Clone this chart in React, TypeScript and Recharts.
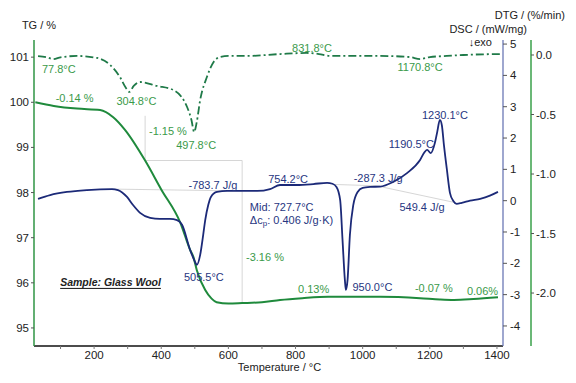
import React from "react";
import { ComposedChart, Line, XAxis, YAxis, ReferenceDot, ReferenceLine } from "recharts";

// TG (mass, %)
const TG_T = [25, 80, 149, 218, 257, 292, 352, 400, 457, 486, 496, 506, 531, 550, 565, 600, 641, 700, 754, 820, 897, 1052, 1171, 1230, 1272, 1330, 1403];
const TG = [100.0, 99.92, 99.86, 99.83, 99.67, 99.39, 98.71, 98.07, 97.33, 96.73, 96.57, 96.28, 95.84, 95.65, 95.57, 95.54, 95.55, 95.57, 95.62, 95.66, 95.69, 95.69, 95.66, 95.63, 95.62, 95.64, 95.68];

// DSC (mW/mg)
const DSC_T = [33, 69, 119, 179, 253, 271, 298, 316, 337, 367, 396, 426, 447, 462, 486, 501, 506, 516, 525, 531, 540, 548, 566, 596, 640, 686, 724, 754, 804, 853, 894, 910, 922, 933, 940, 947, 950, 955, 962, 972, 985, 1000, 1022, 1052, 1091, 1132, 1171, 1185, 1192, 1203, 1215, 1222, 1230, 1236, 1242, 1251, 1260, 1270, 1280, 1295, 1320, 1350, 1379, 1403];
const DSC = [0.06, 0.18, 0.28, 0.34, 0.37, 0.34, 0.12, -0.14, -0.39, -0.55, -0.58, -0.58, -0.62, -0.77, -1.57, -1.96, -2.05, -1.73, -1.09, -0.62, -0.14, 0.12, 0.28, 0.31, 0.31, 0.31, 0.37, 0.5, 0.5, 0.53, 0.57, 0.54, 0.44, 0.02, -1.25, -2.53, -2.85, -2.53, -1.09, -0.14, 0.28, 0.41, 0.44, 0.45, 0.6, 0.88, 1.3, 1.56, 1.62, 1.52, 1.84, 2.19, 2.58, 2.4, 1.78, 0.98, 0.25, -0.01, -0.1, -0.07, 0.0, 0.06, 0.16, 0.28];

// DTG (%/min)
const DTG_T = [33, 60, 78, 100, 149, 209, 248, 277, 295, 305, 318, 337, 387, 436, 460, 477, 490, 498, 506, 516, 536, 556, 575, 600, 655, 754, 832, 870, 903, 1000, 1052, 1140, 1171, 1200, 1251, 1300, 1409];
const DTG = [-0.01, -0.02, -0.035, -0.02, -0.008, -0.025, -0.084, -0.185, -0.277, -0.31, -0.26, -0.227, -0.26, -0.294, -0.35, -0.437, -0.546, -0.647, -0.56, -0.378, -0.185, -0.059, -0.017, -0.008, -0.008, 0.008, 0.017, 0.008, -0.008, -0.008, -0.008, -0.017, -0.034, -0.017, -0.008, 0.0, 0.008];

const X_TICKS = [100, 200, 300, 400, 500, 600, 700, 800, 900, 1000, 1100, 1200, 1300, 1400];
const TG_TICKS = [95, 96, 97, 98, 99, 100, 101];
const DSC_TICKS = [-4, -3, -2, -1, 0, 1, 2, 3, 4, 5];
const DTG_TICKS = [0, -0.5, -1, -1.5, -2];

const tgData = TG_T.map((t, i) => ({ t, v: TG[i] }));
const dscData = DSC_T.map((t, i) => ({ t, v: DSC[i] }));
const dtgData = DTG_T.map((t, i) => ({ t, v: DTG[i] }));

const FONT = "'Liberation Sans', Arial, sans-serif";
const GREEN = "#1f8a3c";
const GREEN_TXT = "#3a9a4a";
const DARK_GREEN = "#1f7a48";
const BLUE = "#1c2a78";
const BLUE_TXT = "#27367f";
const GUIDE = "#cccccc";

type Note = { text: string; t: number; v: number; axis: string; color: string; anchor?: "start" | "middle" | "end" };

const NOTES: Note[] = [
  { text: "77.8°C", t: 95, v: -0.118, axis: "dtg", color: GREEN_TXT },
  { text: "304.8°C", t: 326, v: -0.387, axis: "dtg", color: GREEN_TXT },
  { text: "497.8°C", t: 504, v: -0.756, axis: "dtg", color: GREEN_TXT },
  { text: "831.8°C", t: 849, v: 0.059, axis: "dtg", color: GREEN_TXT },
  { text: "1170.8°C", t: 1171, v: -0.101, axis: "dtg", color: GREEN_TXT },
  { text: "-0.14 %", t: 142, v: 100.09, axis: "tg", color: GREEN_TXT },
  { text: "-1.15 %", t: 420, v: 99.36, axis: "tg", color: GREEN_TXT },
  { text: "-3.16 %", t: 709, v: 96.57, axis: "tg", color: GREEN_TXT },
  { text: "0.13%", t: 854, v: 95.86, axis: "tg", color: GREEN_TXT },
  { text: "-0.07 %", t: 1212, v: 95.88, axis: "tg", color: GREEN_TXT },
  { text: "0.06%", t: 1357, v: 95.82, axis: "tg", color: GREEN_TXT },
  { text: "1230.1°C", t: 1245, v: 2.736, axis: "dsc", color: BLUE_TXT },
  { text: "1190.5°C", t: 1145, v: 1.81, axis: "dsc", color: BLUE_TXT },
  { text: "-287.3 J/g", t: 1046, v: 0.725, axis: "dsc", color: BLUE_TXT },
  { text: "549.4 J/g", t: 1177, v: -0.2, axis: "dsc", color: BLUE_TXT },
  { text: "-783.7 J/g", t: 554, v: 0.502, axis: "dsc", color: BLUE_TXT },
  { text: "754.2°C", t: 778, v: 0.693, axis: "dsc", color: BLUE_TXT },
  { text: "Mid: 727.7°C", t: 664, v: -0.2, axis: "dsc", color: BLUE_TXT, anchor: "start" },
  { text: "DCP", t: 664, v: -0.615, axis: "dsc", color: BLUE_TXT, anchor: "start" },
  { text: "505.5°C", t: 527, v: -2.435, axis: "dsc", color: BLUE_TXT },
  { text: "950.0°C", t: 1029, v: -2.754, axis: "dsc", color: BLUE_TXT },
];

// light guide lines of the step / peak evaluation
const GUIDES = [
  { axis: "tg", a: [352, 99.7], b: [352, 98.71] },
  { axis: "tg", a: [352, 98.71], b: [641, 98.71] },
  { axis: "tg", a: [641, 98.71], b: [641, 95.55] },
  { axis: "dsc", a: [253, 0.37], b: [641, 0.31] },
  { axis: "dsc", a: [910, 0.52], b: [1052, 0.47] },
  { axis: "dsc", a: [1052, 0.45], b: [1275, -0.06] },
];

const noteLabel = (n: Note) => (props: any) => {
  const vb = props.viewBox || {};
  const x = (vb.x ?? 0) + (vb.width ?? 0) / 2;
  const y = (vb.y ?? 0) + (vb.height ?? 0) / 2;
  if (n.text === "DCP") {
    return (
      <text x={x} y={y} textAnchor="start" dominantBaseline="central" fontSize={11} fill={n.color} fontFamily={FONT}>
        Δc<tspan fontSize={8} dy={3}>p</tspan>
        <tspan dy={-3}>: 0.406 J/g·K)</tspan>
      </text>
    );
  }
  return (
    <text x={x} y={y} textAnchor={n.anchor ?? "middle"} dominantBaseline="central" fontSize={11} fill={n.color} fontFamily={FONT}>
      {n.text}
    </text>
  );
};

const tickStyle = { fill: "#222", fontSize: 11.5, fontFamily: FONT };

export default function App() {
  return (
    <div style={{ position: "absolute", left: 0, top: 0, width: 576, height: 383, background: "#fff" }}>
      <ComposedChart width={576} height={383} margin={{ top: 40, right: 0, bottom: 0, left: 0 }}>
        <XAxis
          type="number"
          dataKey="t"
          domain={[21, 1418]}
          allowDataOverflow
          ticks={X_TICKS}
          tickFormatter={(v) => (v % 200 === 0 ? String(v) : "")}
          tick={tickStyle}
          tickSize={3}
          height={37}
          axisLine={{ stroke: "#111", strokeWidth: 1.3 }}
          tickLine={{ stroke: "#777" }}
          label={{
            content: ({ viewBox }: any) => (
              <text x={viewBox.x + viewBox.width / 2 + 11} y={viewBox.y + 21} textAnchor="middle" dominantBaseline="central" fontSize={11} fill="#222" fontFamily={FONT}>
                Temperature / °C
              </text>
            ),
          }}
        />
        <YAxis
          yAxisId="tg"
          orientation="left"
          width={34}
          domain={[94.6, 101.38]}
          allowDataOverflow
          ticks={TG_TICKS}
          tick={tickStyle}
          tickSize={3}
          axisLine={{ stroke: "#2f9445", strokeWidth: 1.5 }}
          tickLine={{ stroke: "#555" }}
          label={{
            content: ({ viewBox }: any) => (
              <text x={viewBox.x + viewBox.width + 5} y={viewBox.y - 15} textAnchor="middle" dominantBaseline="central" fontSize={11} fill="#222" fontFamily={FONT}>
                TG / %
              </text>
            ),
          }}
        />
        <YAxis
          yAxisId="dsc"
          orientation="right"
          width={28}
          domain={[-4.64, 5.13]}
          allowDataOverflow
          ticks={DSC_TICKS}
          tick={tickStyle}
          tickSize={4}
          tickMargin={3}
          axisLine={{ stroke: "#6b78b5", strokeWidth: 1.3 }}
          tickLine={{ stroke: "#555" }}
          label={{
            content: ({ viewBox }: any) => (
              <g fontSize={11} fill="#222" fontFamily={FONT}>
                <text x={viewBox.x + 24} y={viewBox.y - 11} textAnchor="end" dominantBaseline="central">
                  DSC / (mW/mg)
                </text>
                <text x={viewBox.x - 11} y={viewBox.y + 2} textAnchor="end" dominantBaseline="central">
                  ↓exo
                </text>
              </g>
            ),
          }}
        />
        <YAxis
          yAxisId="dtg"
          orientation="right"
          width={45}
          domain={[-2.445, 0.126]}
          allowDataOverflow
          ticks={DTG_TICKS}
          tickFormatter={(v) => Number(v).toFixed(1)}
          tick={tickStyle}
          tickSize={3}
          axisLine={{ stroke: "#3aa04a", strokeWidth: 1.5 }}
          tickLine={{ stroke: "#555" }}
          label={{
            content: ({ viewBox }: any) => (
              <text x={viewBox.x + 34} y={viewBox.y - 25} textAnchor="end" dominantBaseline="central" fontSize={11} fill="#222" fontFamily={FONT}>
                DTG / (%/min)
              </text>
            ),
          }}
        />

        {GUIDES.map((g, i) => (
          <ReferenceLine
            key={`g${i}`}
            yAxisId={g.axis}
            segment={[{ x: g.a[0], y: g.a[1] }, { x: g.b[0], y: g.b[1] }]}
            stroke={GUIDE}
            strokeWidth={0.8}
            ifOverflow="visible"
          />
        ))}

        <Line yAxisId="dtg" data={dtgData} dataKey="v" type="monotone" stroke={DARK_GREEN} strokeWidth={1.8} strokeDasharray="8 3 2 3" dot={false} isAnimationActive={false} />
        <Line yAxisId="tg" data={tgData} dataKey="v" type="monotone" stroke={GREEN} strokeWidth={2} dot={false} isAnimationActive={false} />
        <Line yAxisId="dsc" data={dscData} dataKey="v" type="monotone" stroke={BLUE} strokeWidth={1.8} dot={false} isAnimationActive={false} />

        {NOTES.map((n, i) => (
          <ReferenceDot key={`n${i}`} yAxisId={n.axis} x={n.t} y={n.v} r={1} fill="none" stroke="none" ifOverflow="visible" label={noteLabel(n)} />
        ))}
        <ReferenceDot
          yAxisId="tg"
          x={249}
          y={96.02}
          r={1}
          fill="none"
          stroke="none"
          label={(props: any) => (
            <text
              x={props.viewBox.x + props.viewBox.width / 2}
              y={props.viewBox.y + props.viewBox.height / 2}
              textAnchor="middle"
              dominantBaseline="central"
              fontSize={10.5}
              fontWeight="bold"
              fontStyle="italic"
              textDecoration="underline"
              fill="#222"
              fontFamily={FONT}
            >
              Sample: Glass Wool
            </text>
          )}
        />
      </ComposedChart>
    </div>
  );
}
